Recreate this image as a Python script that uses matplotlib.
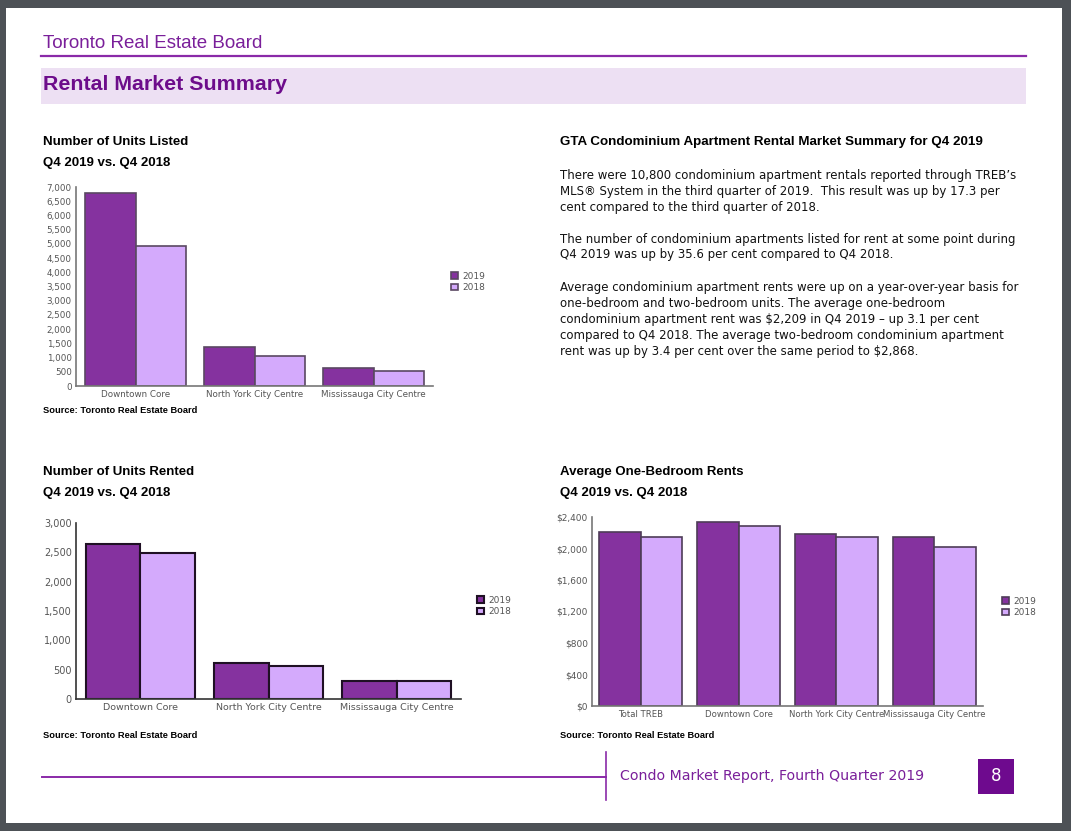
import matplotlib.pyplot as plt
from matplotlib.patches import Rectangle
from matplotlib.lines import Line2D
from matplotlib.ticker import FuncFormatter

# page size in pixels
W, H = 1071, 831

# chart data
listed_regions = ["Downtown Core", "North York City Centre", "Mississauga City Centre"]
listed_2019 = [6780, 1380, 645]
listed_2018 = [4920, 1055, 530]

rented_regions = ["Downtown Core", "North York City Centre", "Mississauga City Centre"]
rented_2019 = [2650, 620, 312]
rented_2018 = [2495, 557, 310]

rent_regions = ["Total TREB", "Downtown Core", "North York City Centre", "Mississauga City Centre"]
rent_2019 = [2209, 2332, 2188, 2150]
rent_2018 = [2142, 2290, 2141, 2022]

series_labels = ["2019", "2018"]

summary_title = "GTA Condominium Apartment Rental Market Summary for Q4 2019"
summary_lines = [
    ("There were 10,800 condominium apartment rentals reported through TREB\u2019s", 175),
    ("MLS\u00ae System in the third quarter of 2019.  This result was up by 17.3 per", 191),
    ("cent compared to the third quarter of 2018.", 207),
    ("The number of condominium apartments listed for rent at some point during", 239),
    ("Q4 2019 was up by 35.6 per cent compared to Q4 2018.", 255),
    ("Average condominium apartment rents were up on a year-over-year basis for", 287),
    ("one-bedroom and two-bedroom units. The average one-bedroom", 303),
    ("condominium apartment rent was $2,209 in Q4 2019 \u2013 up 3.1 per cent", 319),
    ("compared to Q4 2018. The average two-bedroom condominium apartment", 335),
    ("rent was up by 3.4 per cent over the same period to $2,868.", 351),
]

C2019 = "#85329f"
C2018 = "#d4aafc"
PURPLE = "#7a1f9a"
HEAD = "Liberation Sans"


def fx(x):
    return x / W


def fy(y):
    return 1 - y / H


def ptext(x, y, s, **kw):
    fig.text(fx(x), fy(y), s, **kw)


fig = plt.figure(figsize=(W / 100, H / 100), dpi=100, facecolor="#4d5156")

# white page (kept behind the axes)
fig.patches.append(Rectangle((fx(6), fy(823)), fx(1062 - 6), (823 - 8) / H,
                             transform=fig.transFigure, facecolor="white",
                             edgecolor="none", zorder=-10))

# header
ptext(43, 43, "Toronto Real Estate Board", fontsize=13.5, color=PURPLE,
      family=HEAD, va="center")
fig.lines.append(Line2D([fx(41), fx(1026)], [fy(56), fy(56)], color="#8a2aa8",
                        lw=1.6, transform=fig.transFigure))
fig.patches.append(Rectangle((fx(41), fy(104)), fx(1026 - 41), 36 / H,
                             transform=fig.transFigure, facecolor="#ede0f3",
                             edgecolor="none", zorder=-5))
ptext(43, 85, "Rental Market Summary", fontsize=15.4, color="#6d0c8b",
      family=HEAD, weight="bold", va="center")


def bar_chart(box, cats, v19, v18, ymax, step, fmt, edge, elw, spine_c, legend_xy,
              tick_fs=6.5, xtick_fs=6.5):
    l, t, r, b = box
    ax = fig.add_axes([fx(l), fy(b), fx(r - l), (b - t) / H])
    x = range(len(cats))
    w = 0.425
    ax.bar([i - w / 2 for i in x], v19, w, color=C2019, edgecolor=edge,
           linewidth=elw, label=series_labels[0])
    ax.bar([i + w / 2 for i in x], v18, w, color=C2018, edgecolor=edge,
           linewidth=elw, label=series_labels[1])
    ax.set_xlim(-0.5, len(cats) - 0.5)
    ax.set_ylim(0, ymax)
    ax.set_yticks(range(0, ymax + 1, step))
    ax.yaxis.set_major_formatter(FuncFormatter(fmt))
    ax.set_xticks(list(x))
    ax.set_xticklabels(cats)
    ax.tick_params(axis="both", length=0, colors="#555555", pad=3)
    ax.tick_params(axis="y", labelsize=tick_fs)
    ax.tick_params(axis="x", labelsize=xtick_fs)
    for s in ["top", "right"]:
        ax.spines[s].set_visible(False)
    for s in ["left", "bottom"]:
        ax.spines[s].set_color(spine_c)
        ax.spines[s].set_linewidth(1.2)
    ax.patch.set_alpha(0)
    ax.legend(loc="center left", bbox_to_anchor=(fx(legend_xy[0]), fy(legend_xy[1])),
              bbox_transform=fig.transFigure, frameon=False, fontsize=6.5,
              handlelength=0.8, handleheight=0.8, handletextpad=0.4,
              labelspacing=0.25, labelcolor="#555555")
    return ax


def comma(v, p):
    return f"{int(v):,}"


def dollar(v, p):
    return f"${int(v):,}"


# chart 1
ptext(43, 142, "Number of Units Listed", fontsize=9.5, weight="bold", family=HEAD, va="center")
ptext(43, 163, "Q4 2019 vs. Q4 2018", fontsize=9.5, weight="bold", family=HEAD, va="center")
bar_chart((76, 187, 433, 386), listed_regions, listed_2019, listed_2018, 7000, 500,
          comma, "#5a4862", 1.2, "#777777", (443, 282), tick_fs=6.3, xtick_fs=6.3)
ptext(43, 411, "Source: Toronto Real Estate Board", fontsize=6.7, weight="bold",
      family=HEAD, va="center")

# chart 2
ptext(43, 472, "Number of Units Rented", fontsize=9.5, weight="bold", family=HEAD, va="center")
ptext(43, 493, "Q4 2019 vs. Q4 2018", fontsize=9.5, weight="bold", family=HEAD, va="center")
bar_chart((76, 523, 461, 699), rented_regions, rented_2019, rented_2018, 3000, 500,
          comma, "#1f1024", 1.5, "#333333", (469, 606), tick_fs=7, xtick_fs=6.8)
ptext(43, 735, "Source: Toronto Real Estate Board", fontsize=6.7, weight="bold",
      family=HEAD, va="center")

# chart 3
ptext(560, 472, "Average One-Bedroom Rents", fontsize=9.5, weight="bold", family=HEAD, va="center")
ptext(560, 493, "Q4 2019 vs. Q4 2018", fontsize=9.5, weight="bold", family=HEAD, va="center")
bar_chart((592, 517, 983, 706), rent_regions, rent_2019, rent_2018, 2400, 400,
          dollar, "#4e3c57", 1.2, "#777777", (994, 607), tick_fs=6.5, xtick_fs=6.1)
ptext(560, 735, "Source: Toronto Real Estate Board", fontsize=6.7, weight="bold",
      family=HEAD, va="center")

# summary text
ptext(560, 142, summary_title, fontsize=9.6, weight="bold", family=HEAD, va="center")
for line, y in summary_lines:
    ptext(560, y, line, fontsize=8.5, va="center", color="#111111")

# footer
fig.lines.append(Line2D([fx(42), fx(606)], [fy(777), fy(777)], color="#8a2aa8",
                        lw=1.4, transform=fig.transFigure))
fig.lines.append(Line2D([fx(606), fx(606)], [fy(752), fy(800)], color="#8a2aa8",
                        lw=1.2, transform=fig.transFigure))
ptext(620, 776, "Condo Market Report, Fourth Quarter 2019", fontsize=10.2,
      color=PURPLE, va="center")
fig.patches.append(Rectangle((fx(978), fy(794)), fx(36), 35 / H,
                             transform=fig.transFigure, facecolor="#6e0a8e",
                             edgecolor="none"))
ptext(996, 776, "8", fontsize=12, color="white", ha="center", va="center")

fig.savefig("out.png", dpi=100, facecolor=fig.get_facecolor())
